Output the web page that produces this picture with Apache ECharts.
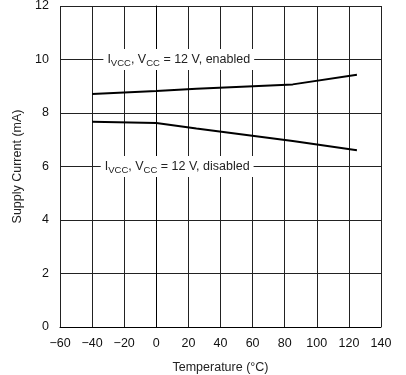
<!DOCTYPE html>
<html><head><meta charset="utf-8">
<script src="https://cdn.jsdelivr.net/npm/echarts@6/dist/echarts.min.js"></script>
<style>html,body{margin:0;padding:0;background:#fff}#c{width:406px;height:375px}</style>
</head><body><div id="c"></div>
<script>
var temps = [-40, 0, 25, 85, 125];
var enabled = [8.71, 8.82, 8.91, 9.07, 9.43];
var disabled = [7.67, 7.63, 7.42, 6.95, 6.61];
var xTicks = [-60, -40, -20, 0, 20, 40, 60, 80, 100, 120, 140];
var yTicks = [0, 2, 4, 6, 8, 10, 12];
var labelEnabled = {x: 14, y: 10, name: 'enabled'};
var labelDisabled = {x: 13, y: 6, name: 'disabled'};

function pairs(xs, ys){ return xs.map(function(x,i){ return [x, ys[i]]; }); }
function fmt(v){ return v < 0 ? '\u2212' + Math.abs(v) : String(v); }
var font = 'Liberation Sans, Arial, sans-serif';
function annot(a){
  return {
    coord: [a.x, a.y], symbolSize: 0,
    label: {
      show: true, position: 'inside',
      formatter: 'I{s|VCC}, V{s|CC} = 12 V, ' + a.name,
      color: '#222', fontSize: 12.5, fontFamily: font,
      backgroundColor: '#fff', padding: [3, 4, 2, 4],
      rich: { s: { fontSize: 9.5, fontFamily: font, color: '#222', padding: [6, 0, 0, 0] } }
    }
  };
}
var chart = echarts.init(document.getElementById('c'), null, {renderer: 'canvas'});
chart.setOption({
  animation: false,
  backgroundColor: '#fff',
  grid: {left: 60, right: 25, top: 6, bottom: 48, containLabel: false, outerBoundsMode: 'none'},
  xAxis: {
    type: 'value', min: xTicks[0], max: xTicks[xTicks.length-1], interval: 20,
    name: 'Temperature (\u00B0C)', nameLocation: 'middle', nameGap: 34,
    nameTextStyle: {fontSize: 12.5, color: '#222', fontFamily: font},
    axisLine: {show: true, lineStyle: {color: '#000', width: 1}},
    axisTick: {show: false},
    axisLabel: {formatter: fmt, fontSize: 12.5, color: '#111', fontFamily: font, margin: 10},
    splitLine: {show: true, lineStyle: {color: '#222', width: 1}}
  },
  yAxis: {
    type: 'value', min: yTicks[0], max: yTicks[yTicks.length-1], interval: 2,
    name: 'Supply Current (mA)', nameLocation: 'middle', nameGap: 30,
    nameTextStyle: {fontSize: 12.5, color: '#222', fontFamily: font},
    axisLine: {show: true, lineStyle: {color: '#000', width: 1}},
    axisTick: {show: false},
    axisLabel: {fontSize: 12.5, color: '#111', fontFamily: font, margin: 11},
    splitLine: {show: true, lineStyle: {color: '#222', width: 1}}
  },
  series: [
    {type: 'line', data: pairs(temps, enabled), symbol: 'none', lineStyle: {color: '#000', width: 2}, z: 3},
    {type: 'line', data: pairs(temps, disabled), symbol: 'none', lineStyle: {color: '#000', width: 2}, z: 3},
    {type: 'line', data: [], markPoint: {silent: true, data: [annot(labelEnabled), annot(labelDisabled)]}, z: 5}
  ]
});
</script></body></html>
